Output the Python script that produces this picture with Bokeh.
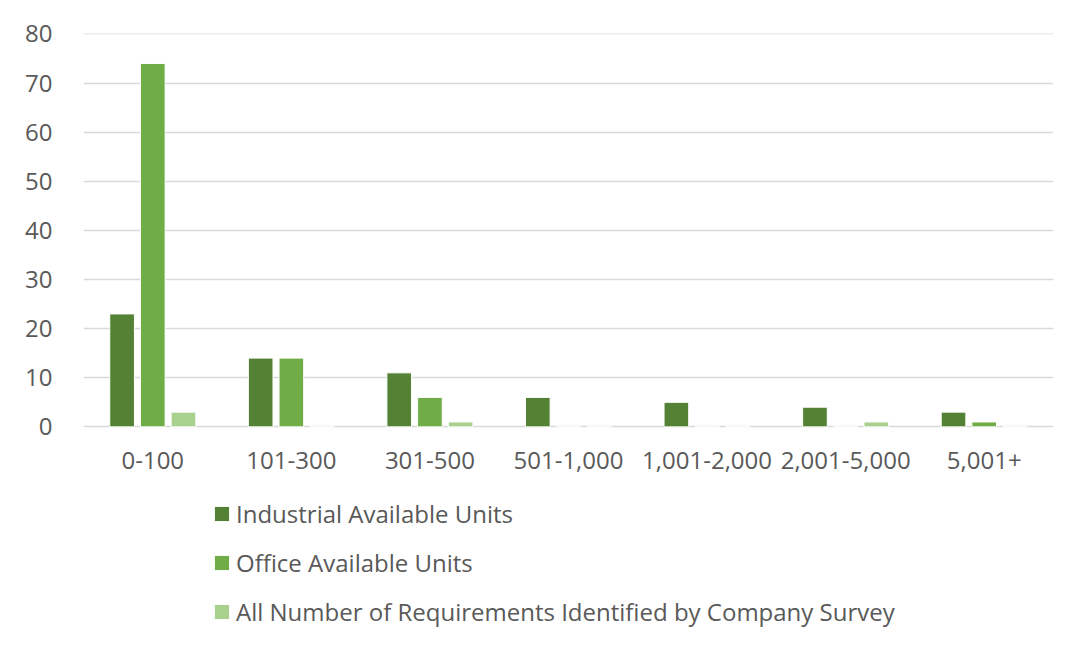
from bokeh.plotting import figure
from bokeh.models import Range1d, FactorRange, Legend, LegendItem, FixedTicker, ColumnDataSource
from bokeh.core.properties import value
from bokeh.transform import dodge
from bokeh.embed import file_html
from bokeh.resources import INLINE

categories = ["0-100", "101-300", "301-500", "501-1,000", "1,001-2,000", "2,001-5,000", "5,001+"]
industrial = [23, 14, 11, 6, 5, 4, 3]
office = [74, 14, 6, 0, 0, 0, 1]
requirements = [3, 0, 1, 0, 0, 1, 0]
y_ticks = [0, 10, 20, 30, 40, 50, 60, 70, 80]
series_names = ["Industrial Available Units", "Office Available Units",
                "All Number of Requirements Identified by Company Survey"]
colors = ["#548235", "#70AD47", "#A9D18E"]

src = ColumnDataSource(dict(cat=categories, ind=industrial, off=office, req=requirements,
                            base=[0] * len(categories)))

FONT = "Open Sans"
FSIZE = "24px"
TXT = "#595959"

# the frame extends below zero so that the legend (drawn in the frame) sits under the axis labels
p = figure(x_range=FactorRange(*categories, range_padding=0), y_range=Range1d(-43.3, 80.1),
           frame_width=970, frame_height=606, output_backend="svg", toolbar_location=None,
           min_border_left=83, min_border_right=15, min_border_top=33, min_border_bottom=0)

p.outline_line_color = None
p.xgrid.grid_line_color = None
p.ygrid.grid_line_color = "#D9D9D9"
p.ygrid.grid_line_width = 1.5
p.yaxis.ticker = FixedTicker(ticks=y_ticks)
p.xaxis.visible = False

ax = p.yaxis
ax.axis_line_color = None
ax.major_tick_line_color = None
ax.minor_tick_line_color = None
ax.major_label_text_font = FONT
ax.major_label_text_font_size = FSIZE
ax.major_label_text_color = TXT
ax.major_label_standoff = 25

# category labels under the zero line
p.text(x="cat", y="base", text="cat", source=src, y_offset=34,
       text_align="center", text_baseline="middle",
       text_font=value(FONT), text_font_size=FSIZE, text_color=TXT)

offs = [-0.2215, 0.0, 0.2215]
fields = ["ind", "off", "req"]
renderers = []
for f, o, c in zip(fields, offs, colors):
    r = p.vbar(x=dodge("cat", o, range=p.x_range), top=f, width=0.178, source=src,
               fill_color=c, line_color="white", line_width=1)
    renderers.append(r)

legend = Legend(items=[LegendItem(label=n, renderers=[r]) for n, r in zip(series_names, renderers)],
                orientation="vertical", location=(129, 11))
legend.border_line_color = None
legend.background_fill_alpha = 0
legend.padding = 0
legend.margin = 0
legend.glyph_width = 19
legend.glyph_height = 19
legend.label_height = 24
legend.spacing = 16
legend.label_standoff = 5
legend.label_text_font = FONT
legend.label_text_font_size = FSIZE
legend.label_text_color = TXT
legend.label_text_baseline = "middle"
p.add_layout(legend, "center")

open("out.html", "w").write(file_html(p, INLINE))
